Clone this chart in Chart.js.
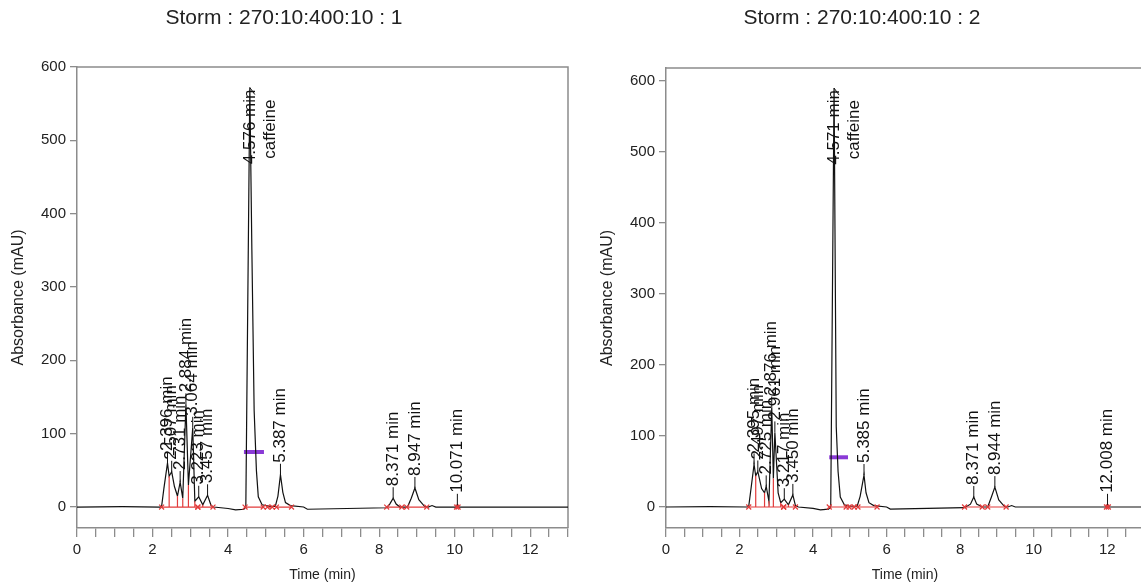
<!DOCTYPE html>
<html>
<head>
<meta charset="utf-8">
<script src="https://cdn.jsdelivr.net/npm/chart.js@4.4.0/dist/chart.umd.min.js"></script>
<style>
  html, body { margin: 0; padding: 0; background: #fff; overflow: hidden; width: 1141px; height: 588px; }
  canvas { position: absolute; top: 0; }
  #chart1 { left: 0; }
  #chart2 { left: 580px; }
</style>
</head>
<body>
<canvas id="chart1" width="580" height="588"></canvas>
<canvas id="chart2" width="614" height="588"></canvas>
<script>
// --- Run 1 trace (time in min, absorbance in mAU) ---
const run1Time = [0, 1.2, 2.2, 2.24, 2.3, 2.396, 2.44, 2.507, 2.58, 2.66, 2.731, 2.8, 2.884, 2.95, 3.064, 3.12, 3.223, 3.33, 3.457, 3.55, 3.62, 4.0, 4.2, 4.42, 4.47, 4.576, 4.63, 4.69, 4.75, 4.8, 4.9, 5.1, 5.25, 5.32, 5.387, 5.45, 5.52, 5.65, 6.0, 6.1, 8.2, 8.28, 8.371, 8.45, 8.55, 8.75, 8.85, 8.947, 9.05, 9.2, 9.3, 9.4, 9.5, 10.03, 10.071, 10.11, 13];
const run1Abs = [0, 0.5, 0, 1, 25, 60, 42, 48, 28, 15, 34, 12, 140, 30, 108, 8, 14, 3, 16, 2, 0, -2, -4, -3, 0, 572, 350, 132, 50, 14, 3, 1, 1, 15, 44, 20, 6, 2, 0, -3, -1, 4, 12, 4, 0, 0, 12, 26, 10, 1, 0, 2, 0, 0, 3, 0, 0];
const run1PeakTimes = [2.396, 2.507, 2.731, 2.884, 3.064, 3.223, 3.457, 5.387, 8.371, 8.947, 10.071];
const run1PeakAbs = [60, 48, 34, 140, 108, 14, 16, 44, 12, 26, 3];
const run1DropTimes = [2.44, 2.66, 2.8, 2.95, 3.12, 3.33];
const run1DropAbs = [42, 15, 12, 30, 8, 3];
const run1BaseStart = [2.24, 3.2, 4.45, 5.04, 5.28, 8.2, 8.73, 10.05];
const run1BaseEnd = [3.2, 3.6, 4.93, 5.17, 5.68, 8.6, 9.26, 10.09];

// --- Run 2 trace ---
const run2Time = [0, 1.2, 2.2, 2.25, 2.31, 2.395, 2.44, 2.497, 2.6, 2.68, 2.725, 2.8, 2.876, 2.92, 2.961, 3.05, 3.12, 3.217, 3.33, 3.45, 3.52, 3.6, 4.0, 4.2, 4.42, 4.48, 4.571, 4.63, 4.68, 4.74, 4.85, 5.0, 5.2, 5.28, 5.385, 5.44, 5.52, 5.65, 6.0, 6.1, 8.12, 8.28, 8.371, 8.45, 8.6, 8.75, 8.85, 8.944, 9.05, 9.2, 9.3, 9.4, 9.5, 11.96, 12.008, 12.05, 13];
const run2Abs = [0, 0.5, 0, 1, 25, 60, 44, 50, 26, 20, 29, 8, 140, 40, 105, 20, 6, 11, 3, 17, 2, 0, -2, -4, -3, 0, 590, 113, 50, 14, 3, 1, 1, 15, 45, 20, 6, 2, 0, -3, -1, 4, 14, 4, 0, 0, 14, 28, 10, 1, 0, 2, 0, 0, 3, 0, 0];
const run2PeakTimes = [2.395, 2.497, 2.725, 2.876, 2.961, 3.217, 3.450, 5.385, 8.371, 8.944, 12.008];
const run2PeakAbs = [60, 50, 29, 140, 105, 11, 17, 45, 14, 28, 3];
const run2DropTimes = [2.44, 2.68, 2.8, 2.92, 3.12, 3.33];
const run2DropAbs = [44, 20, 8, 40, 6, 3];
const run2BaseStart = [2.25, 3.2, 4.44, 4.98, 5.22, 8.12, 8.75, 11.98];
const run2BaseEnd = [3.2, 3.52, 4.9, 5.12, 5.74, 8.6, 9.25, 12.03];

// main (named) peak and its half-height bar, [run1, run2]
const mainPeakTimes = [4.576, 4.571];
const mainPeakAbs = [572, 590];
const mainPeakName = 'caffeine';
const barStart = [4.42, 4.44];
const barEnd = [4.95, 4.95];
const barAbs = [75, 70];

const yTicks = [0, 100, 200, 300, 400, 500, 600];
const xLabels = [0, 2, 4, 6, 8, 10, 12];
const titles = ['Storm : 270:10:400:10 : 1', 'Storm : 270:10:400:10 : 2'];

const FONT = '"Liberation Sans", Arial, sans-serif';
const GREY = '#8c8c8c';

// top + right edges of the plot box
const framePlugin = {
    id: 'frame',
    beforeDatasetsDraw(chart) {
        const { ctx, chartArea: a } = chart;
        ctx.save();
        ctx.strokeStyle = GREY;
        ctx.lineWidth = 1.5;
        ctx.beginPath();
        ctx.moveTo(a.left, a.top);
        ctx.lineTo(a.right, a.top);
        ctx.lineTo(a.right, a.bottom);
        ctx.stroke();
        ctx.restore();
    }
};

// rotated retention-time labels above the peaks
const peakLabelPlugin = {
    id: 'peakLabels',
    afterDatasetsDraw(chart, args, opts) {
        const ctx = chart.ctx, xs = chart.scales.x, ys = chart.scales.y;
        ctx.save();
        ctx.font = '17px ' + FONT;
        ctx.fillStyle = '#111';
        ctx.strokeStyle = '#111';
        ctx.lineWidth = 1;
        opts.times.forEach((t, i) => {
            const px = xs.getPixelForValue(t);
            const py = ys.getPixelForValue(opts.heights[i]);
            ctx.beginPath();
            ctx.moveTo(px, py);
            ctx.lineTo(px, py - 11);
            ctx.stroke();
            ctx.save();
            ctx.translate(px, py - 12);
            ctx.rotate(-Math.PI / 2);
            ctx.textAlign = 'left';
            ctx.textBaseline = 'middle';
            ctx.fillText(t.toFixed(3) + ' min', 0, 0);
            ctx.restore();
        });

        // main peak: label hangs down from the apex, name on second line
        const mx = xs.getPixelForValue(opts.mainTime);
        const my = ys.getPixelForValue(opts.mainAbs);
        ctx.beginPath();
        ctx.moveTo(mx, my);
        ctx.lineTo(mx + 5, my + 7);
        ctx.stroke();
        ctx.save();
        ctx.translate(mx, my + 2);
        ctx.rotate(-Math.PI / 2);
        ctx.textAlign = 'right';
        ctx.textBaseline = 'middle';
        ctx.fillText(opts.mainTime.toFixed(3) + ' min', 0, 0);
        ctx.fillText(mainPeakName, -10, 20);
        ctx.restore();
        ctx.restore();
    }
};

function points(xArr, yArr) {
    return xArr.map((x, i) => ({ x: x, y: yArr[i] }));
}

function buildChart(id, idx, trace, peaks, drops, base, yRange, axisWidth, titlePad, rightPad) {
    const baseData = [];
    base.start.forEach((s, i) => {
        baseData.push({ x: s, y: 0 }, { x: base.end[i], y: 0 }, { x: base.end[i], y: null });
    });
    const dropData = [];
    drops.times.forEach((t, i) => {
        dropData.push({ x: t, y: 0 }, { x: t, y: drops.abs[i] }, { x: t, y: null });
    });
    const xTickVals = [];
    for (let v = 0; v <= 13; v += 0.5) xTickVals.push(v);

    return new Chart(document.getElementById(id), {
        type: 'line',
        data: {
            datasets: [
                {
                    label: 'baseline',
                    data: baseData,
                    borderColor: '#e23b3b',
                    borderWidth: 1.2,
                    pointStyle: 'crossRot',
                    pointRadius: 3.5,
                    pointBorderColor: '#e23b3b',
                    pointBorderWidth: 1.2,
                    spanGaps: false
                },
                {
                    label: 'drops',
                    data: dropData,
                    borderColor: '#e23b3b',
                    borderWidth: 1.2,
                    pointRadius: 0,
                    spanGaps: false
                },
                {
                    label: 'signal',
                    data: points(trace.time, trace.abs),
                    borderColor: '#111',
                    borderWidth: 1.2,
                    pointRadius: 0,
                    tension: 0
                },
                {
                    label: 'width',
                    data: [{ x: barStart[idx], y: barAbs[idx] }, { x: barEnd[idx], y: barAbs[idx] }],
                    borderColor: '#8a3ad6',
                    borderWidth: 4,
                    pointRadius: 0
                }
            ]
        },
        options: {
            responsive: false,
            animation: false,
            devicePixelRatio: 1,
            layout: { padding: { left: 0, right: rightPad, top: 0, bottom: 0 } },
            plugins: {
                legend: { display: false },
                tooltip: { enabled: false },
                title: {
                    display: true,
                    text: titles[idx],
                    color: '#222',
                    font: { family: FONT, size: 21, weight: 'normal' },
                    padding: { top: 6, bottom: titlePad - 1 }
                },
                peakLabels: {
                    times: peaks.times,
                    heights: peaks.abs,
                    mainTime: mainPeakTimes[idx],
                    mainAbs: mainPeakAbs[idx]
                }
            },
            scales: {
                x: {
                    type: 'linear',
                    min: 0,
                    max: 13,
                    afterBuildTicks: s => { s.ticks = xTickVals.map(v => ({ value: v })); },
                    afterFit: s => { s.height = 60; },
                    ticks: {
                        autoSkip: false,
                        maxRotation: 0,
                        padding: 4,
                        color: '#222',
                        font: { family: FONT, size: 15 },
                        callback: v => xLabels.includes(v) ? String(v) : ''
                    },
                    grid: { drawOnChartArea: false, drawTicks: true, tickLength: 9, color: GREY, lineWidth: 1.3 },
                    border: { display: true, color: GREY, width: 1.5 },
                    title: {
                        display: true,
                        text: 'Time (min)',
                        color: '#222',
                        font: { family: FONT, size: 14 },
                        padding: { top: 0, bottom: 4 }
                    }
                },
                y: {
                    type: 'linear',
                    min: yRange[0],
                    max: yRange[1],
                    afterBuildTicks: s => { s.ticks = yTicks.map(v => ({ value: v })); },
                    afterFit: s => { s.width = axisWidth; },
                    ticks: {
                        padding: 4,
                        color: '#222',
                        font: { family: FONT, size: 15 }
                    },
                    grid: { drawOnChartArea: false, drawTicks: true, tickLength: 7, color: GREY, lineWidth: 1.3 },
                    border: { display: true, color: GREY, width: 1.5 },
                    title: {
                        display: true,
                        text: 'Absorbance (mAU)',
                        color: '#222',
                        font: { family: FONT, size: 16 },
                        padding: { top: axisWidth - 68, bottom: 0 }
                    }
                }
            }
        },
        plugins: [framePlugin, peakLabelPlugin]
    });
}

buildChart('chart1', 0,
    { time: run1Time, abs: run1Abs },
    { times: run1PeakTimes, abs: run1PeakAbs },
    { times: run1DropTimes, abs: run1DropAbs },
    { start: run1BaseStart, end: run1BaseEnd },
    [-28.6, 600], 77, 36.8, 12);

buildChart('chart2', 1,
    { time: run2Time, abs: run2Abs },
    { times: run2PeakTimes, abs: run2PeakAbs },
    { times: run2DropTimes, abs: run2DropAbs },
    { start: run2BaseStart, end: run2BaseEnd },
    [-29.6, 618.3], 86, 37.8, 50);
</script>
</body>
</html>
